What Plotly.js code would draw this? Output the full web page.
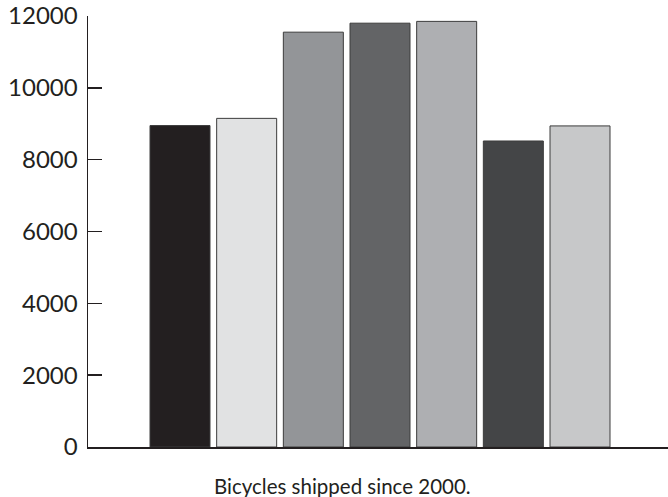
<!DOCTYPE html>
<html>
<head>
<meta charset="utf-8">
<script src="https://cdn.plot.ly/plotly-3.0.1.min.js"></script>
<style>html,body{margin:0;padding:0;background:#fff;}#chart{width:668px;height:497px;}</style>
</head>
<body>
<div id="chart"></div>
<script>
var categories = ["A", "B", "C", "D", "E", "F", "G"];
var shipped = [8950, 9150, 11550, 11800, 11850, 8520, 8940];
var barColors = ["#231f20", "#e1e2e3", "#939598", "#636466", "#aeafb2", "#444547", "#c7c8c9"];
var yTicks = [0, 2000, 4000, 6000, 8000, 10000, 12000];
var caption = "Bicycles shipped since 2000.";

var trace = {
  type: "bar",
  x: categories,
  y: shipped,
  marker: {color: barColors, line: {color: "#3c3c3c", width: 1}},
  hoverinfo: "y"
};

var layout = {
  width: 668, height: 497,
  margin: {l: 88, r: 0, t: 16, b: 50},
  paper_bgcolor: "#fff", plot_bgcolor: "#fff",
  bargap: 0.1,
  showlegend: false,
  font: {family: "Lato, 'Open Sans', sans-serif", color: "#231f20"},
  xaxis: {
    range: [-1.38, 7.32],
    showticklabels: false, ticks: "",
    showgrid: false, zeroline: false,
    showline: true, linecolor: "#231f20", linewidth: 1.5
  },
  yaxis: {
    range: [0, 12000],
    tickvals: yTicks,
    ticktext: yTicks.map(String),
    ticks: "inside", ticklen: 14, tickcolor: "#231f20", tickwidth: 1.5,
    showgrid: false, zeroline: false,
    showline: true, linecolor: "#231f20", linewidth: 1.5,
    tickfont: {family: "Lato, 'Open Sans', sans-serif", size: 24, color: "#231f20"},
    ticklabelstandoff: 4
  },
  annotations: [{
    text: caption, xref: "paper", yref: "paper",
    x: 0.438, y: -0.09, xanchor: "center", yanchor: "middle",
    showarrow: false,
    font: {family: "Lato, 'Open Sans', sans-serif", size: 20.5, color: "#231f20"}
  }]
};

Plotly.newPlot("chart", [trace], layout, {staticPlot: true, displayModeBar: false});
</script>
</body>
</html>
